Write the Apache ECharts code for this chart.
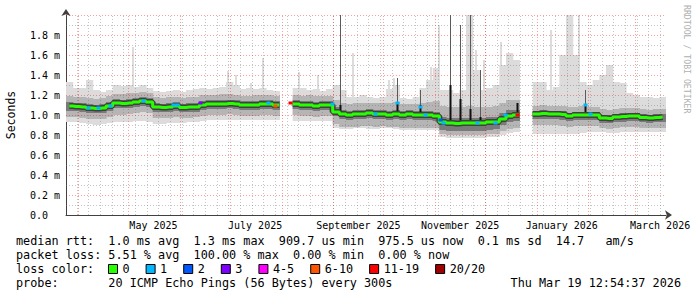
<!DOCTYPE html>
<html><head><meta charset="utf-8">
<script src="https://cdn.jsdelivr.net/npm/echarts@6/dist/echarts.min.js"></script>
<style>html,body{margin:0;padding:0;background:#fff}#c{width:697px;height:297px}</style>
</head><body><div id="c"></div>
<script>
// ---- time range / buckets ----
const startTime = '2025-03-24 12:54:37';
const endTime = '2026-03-19 12:54:37';
const bucketDays = 4;

// ---- median RTT per 4-day bucket (ms) ----
const median = [1.09,1.085,1.08,1.07,1.065,1.07,1.09,1.12,1.115,1.12,
 1.13,1.14,1.13,1.08,1.075,1.08,1.09,1.075,1.08,1.08,
 1.10,1.11,1.11,1.11,1.115,1.11,1.10,1.10,1.10,1.11,
 1.11,1.10,null,null,1.11,1.10,1.10,1.09,1.10,1.10,
 1.03,1.01,1.00,1.01,1.01,1.02,1.01,1.01,1.00,1.01,
 1.00,1.01,1.00,1.00,1.00,0.99,0.93,0.92,0.915,0.92,
 0.92,0.92,0.92,0.93,0.93,0.96,0.99,1.00,null,null,
 1.01,1.015,1.01,1.01,1.005,0.99,1.00,1.00,1.00,1.00,
 0.97,0.965,0.98,0.985,0.99,0.99,0.975,0.97,0.975,0.98];
// smoke outer extent (min / max of pings)
const smokeHigh = [1.33,1.27,1.27,1.35,1.25,1.23,1.25,1.30,1.29,1.30,
 1.28,1.30,1.27,1.24,1.23,1.24,1.25,1.23,1.25,1.26,
 1.27,1.26,1.27,1.28,1.33,1.30,1.26,1.27,1.26,1.27,
 1.25,1.24,null,null,1.27,1.27,1.25,1.26,1.24,1.26,
 1.30,1.25,1.18,1.18,1.20,1.18,1.17,1.18,1.26,1.30,
 1.17,1.16,1.18,1.27,1.35,1.47,1.25,1.25,1.22,1.25,
 2.00,1.45,1.25,1.27,1.30,1.50,1.62,1.55,null,null,
 1.33,1.33,1.25,1.28,1.60,2.00,1.60,1.33,1.30,1.35,
 1.40,1.50,1.33,1.32,1.22,1.20,1.18,1.18,1.17,1.18];
const smokeLow = [0.93,0.93,0.92,0.91,0.90,0.91,0.92,0.93,0.93,0.93,
 0.94,0.94,0.93,0.91,0.91,0.92,0.92,0.92,0.93,0.93,
 0.94,0.95,0.95,0.95,0.95,0.95,0.95,0.95,0.95,0.95,
 0.95,0.95,null,null,0.94,0.94,0.94,0.94,0.94,0.94,
 0.87,0.86,0.86,0.87,0.87,0.86,0.86,0.87,0.87,0.86,
 0.85,0.85,0.85,0.85,0.85,0.85,0.78,0.77,0.77,0.77,
 0.77,0.77,0.77,0.78,0.78,0.80,0.82,0.83,null,null,
 0.81,0.81,0.81,0.81,0.81,0.81,0.81,0.82,0.83,0.83,
 0.83,0.82,0.82,0.83,0.83,0.83,0.83,0.83,0.83,0.83];
// middle smoke layer
const midHigh = [1.19,1.18,1.18,1.17,1.16,1.17,1.19,1.21,1.21,1.22,
 1.22,1.23,1.22,1.18,1.17,1.18,1.18,1.17,1.18,1.18,
 1.20,1.20,1.20,1.21,1.21,1.20,1.19,1.19,1.20,1.20,
 1.20,1.19,null,null,1.20,1.19,1.20,1.19,1.19,1.19,
 1.15,1.12,1.11,1.12,1.12,1.12,1.12,1.12,1.12,1.13,
 1.11,1.11,1.11,1.12,1.13,1.14,1.09,1.08,1.08,1.08,
 1.09,1.08,1.08,1.08,1.09,1.12,1.15,1.15,null,null,
 1.09,1.10,1.09,1.09,1.09,1.08,1.08,1.09,1.08,1.08,
 1.06,1.05,1.06,1.07,1.07,1.07,1.06,1.05,1.06,1.06];
const midLow = [0.98,0.98,0.97,0.96,0.96,0.96,0.98,1.00,1.00,1.01,
 1.02,1.03,1.02,0.97,0.97,0.97,0.98,0.97,0.97,0.98,
 0.99,1.00,1.00,1.00,1.01,1.00,0.99,0.99,0.99,1.00,
 1.00,0.99,null,null,1.00,0.99,0.99,0.98,0.99,0.99,
 0.91,0.88,0.88,0.88,0.89,0.89,0.88,0.89,0.88,0.88,
 0.87,0.87,0.87,0.87,0.87,0.87,0.81,0.80,0.80,0.80,
 0.80,0.80,0.80,0.81,0.81,0.84,0.86,0.87,null,null,
 0.90,0.90,0.90,0.90,0.89,0.88,0.89,0.89,0.89,0.89,
 0.87,0.86,0.87,0.88,0.88,0.88,0.87,0.87,0.87,0.87];
// dark core layer
const coreHigh = [1.13,1.12,1.12,1.11,1.10,1.11,1.13,1.16,1.15,1.16,
 1.17,1.18,1.17,1.12,1.11,1.12,1.13,1.11,1.12,1.12,
 1.14,1.15,1.15,1.15,1.15,1.15,1.14,1.14,1.14,1.15,
 1.15,1.14,null,null,1.15,1.14,1.14,1.13,1.14,1.14,
 1.08,1.05,1.04,1.05,1.05,1.06,1.05,1.05,1.04,1.05,
 1.04,1.05,1.04,1.04,1.04,1.03,0.98,0.97,0.97,0.97,
 0.97,0.97,0.97,0.98,0.98,1.02,1.05,1.05,null,null,
 1.04,1.05,1.04,1.04,1.04,1.02,1.03,1.03,1.03,1.03,
 1.00,1.00,1.01,1.02,1.02,1.02,1.01,1.00,1.01,1.01];
const coreLow = [1.04,1.04,1.03,1.02,1.02,1.02,1.04,1.07,1.07,1.07,
 1.08,1.09,1.08,1.03,1.03,1.03,1.04,1.03,1.03,1.03,
 1.05,1.06,1.06,1.06,1.07,1.06,1.05,1.05,1.05,1.06,
 1.06,1.05,null,null,1.06,1.05,1.05,1.04,1.05,1.05,
 0.99,0.96,0.95,0.96,0.96,0.97,0.96,0.96,0.95,0.96,
 0.95,0.96,0.95,0.95,0.95,0.94,0.85,0.84,0.84,0.84,
 0.84,0.84,0.84,0.85,0.86,0.90,0.93,0.94,null,null,
 0.96,0.96,0.96,0.96,0.95,0.94,0.95,0.95,0.95,0.95,
 0.92,0.92,0.93,0.93,0.94,0.94,0.93,0.92,0.93,0.93];

// narrow light smoke spikes: [date, top ms]
const lightSpikes = [['2025-05-03',1.68],['2025-06-29',1.44],['2025-07-04',1.40],['2025-07-13',1.32],
 ['2025-07-20',1.57],['2025-08-11',1.43],['2025-08-22',1.40],['2025-09-12',1.62],['2025-10-04',1.35],
 ['2025-10-07',1.37],['2025-10-29',1.48],['2025-11-03',1.90],['2025-11-25',1.65],['2025-11-30',1.55],
 ['2025-12-10',1.73],['2026-01-09',1.85],['2026-01-26',2.00]];
// dark spikes: [date, dark from, dark to, thin line top]
const darkSpikes = [['2025-09-05',1.00,1.10,2.00],['2025-10-09',1.02,1.12,1.37],['2025-10-23',1.02,1.10,1.25],
 ['2025-11-10',0.92,1.30,2.00],['2025-11-16',0.92,1.16,1.90],['2025-11-22',0.92,1.06,2.00],
 ['2025-11-28',0.90,0.98,1.45],['2025-12-20',0.97,1.12,1.12],['2026-01-30',1.00,1.10,1.25]];
// median points with packet loss: [date, ms, loss class index]
const lossMarks = [['2025-04-07',1.07,1],['2025-04-13',1.07,1],['2025-04-20',1.09,1],['2025-05-10',1.14,1],
 ['2025-05-28',1.10,1],['2025-05-30',1.10,1],['2025-06-13',1.12,3],['2025-07-24',1.12,1],['2025-07-28',1.09,5],
 ['2025-08-06',1.12,6],['2025-08-31',1.11,1],['2025-09-26',1.01,1],['2025-10-09',1.12,1],['2025-10-23',1.08,1],
 ['2025-10-26',1.00,1],['2025-11-04',0.95,2],['2025-11-06',0.92,1],['2025-11-26',0.92,1],['2025-12-07',0.92,1],
 ['2025-12-13',1.00,1],['2025-12-20',1.00,6],['2026-01-30',1.10,1],['2026-02-02',1.01,1]];

const lossLabels = ['0','1','2','3','4-5','6-10','11-19','20/20'];
const lossColors = ['#26ff00','#00b8ff','#0059ff','#7e00ff','#ff00ff','#ff5500','#ff0000','#a10000'];

const xLabels = ['May 2025','July 2025','September 2025','November 2025','January 2026','March 2026'];
const xLabelDates = ['2025-05-16','2025-07-16','2025-09-16','2025-11-16','2026-01-16','2026-03-16'];

const legendRows = [
 'median rtt:  1.0 ms avg  1.3 ms max  909.7 us min  975.5 us now  0.1 ms sd  14.7   am/s',
 'packet loss: 5.51 % avg  100.00 % max  0.00 % min  0.00 % now',
 'loss color:',
 'probe:       20 ICMP Echo Pings (56 Bytes) every 300s'
];
const stampText = 'Thu Mar 19 12:54:37 2026';
const watermark = 'RRDTOOL / TOBI OETIKER';

// ---- helpers ----
const DAY = 86400000;
function ts(s){ return new Date(s.length <= 10 ? s + 'T00:00:00' : s.replace(' ', 'T')).getTime(); }
function pre(s){ return s.replace(/ {2,}/g, m => '\u00a0'.repeat(m.length)); }
const tStart = ts(startTime), tEnd = ts(endTime);
const MONO = '"DejaVu Sans Mono", monospace';

function band(lowArr, highArr){
  const out = [];
  for (let i = 0; i < lowArr.length; i++){
    if (lowArr[i] == null || highArr[i] == null) continue;
    out.push([tStart + i*bucketDays*DAY, tStart + (i+1)*bucketDays*DAY, lowArr[i], highArr[i]]);
  }
  return out;
}
function bandSeries(lowArr, highArr, color, z){
  return { type:'custom', z:z, silent:true, clip:true, data: band(lowArr, highArr),
    encode:{x:[0,1], y:[2,3]},
    renderItem(params, api){
      const a = api.coord([api.value(0), api.value(3)]);
      const b = api.coord([api.value(1), api.value(2)]);
      return {type:'rect', shape:{x:a[0], y:a[1], width:b[0]-a[0]+0.6, height:b[1]-a[1]}, style:{fill:color}};
    }};
}
const medianData = median.map((v,i) => [tStart + (i+0.5)*bucketDays*DAY, v == null ? '-' : v]);

// grid positions
const monthStarts = [], mondays = [];
{ const d = new Date(tStart); let m = new Date(d.getFullYear(), d.getMonth()+1, 1);
  while (m.getTime() < tEnd){ monthStarts.push(m.getTime()); m = new Date(m.getFullYear(), m.getMonth()+1, 1); }
  let w = new Date(d.getFullYear(), d.getMonth(), d.getDate()); while (w.getDay() !== 1) w = new Date(w.getTime()+DAY);
  if (w.getTime() < tStart) w = new Date(w.getFullYear(), w.getMonth(), w.getDate()+7);
  while (w.getTime() < tEnd){ mondays.push(w.getTime()); w = new Date(w.getFullYear(), w.getMonth(), w.getDate()+7); } }
const yGrid = []; for (let k = 1; k <= 20; k++) yGrid.push([k/10, k % 2 === 0 ? 1 : 0]);

const RED = 'rgba(255,0,0,0.38)', GREY = 'rgba(110,110,110,0.4)';

const series = [
  bandSeries(smokeLow, smokeHigh, '#dcdcdc', 2),
  { type:'custom', z:2, silent:true, clip:true, data: lightSpikes.map(s => [ts(s[0]), 1.0, s[1]]), encode:{x:0, y:[1,2]},
    renderItem(p, api){ const a = api.coord([api.value(0), api.value(2)]); const b = api.coord([api.value(0), api.value(1)]);
      return {type:'rect', shape:{x:Math.round(a[0]), y:a[1], width:2, height:b[1]-a[1]}, style:{fill:'#dcdcdc'}}; } },
  bandSeries(midLow, midHigh, '#b5b5b5', 2),
  bandSeries(coreLow, coreHigh, '#7a7a7a', 2),
  { type:'custom', z:3, silent:true, clip:true,
    data: mondays.map(t => [t, 0, 0]).concat(monthStarts.map(t => [t, 0, 1])), encode:{x:0, y:1},
    renderItem(p, api){ const a = api.coord([api.value(0), 0]); const b = api.coord([api.value(0), 2.0]); const x = Math.round(a[0]) + 0.5;
      return {type:'line', shape:{x1:x, y1:a[1], x2:x, y2:b[1]}, style:{stroke: api.value(2) ? RED : GREY, lineWidth:1, lineDash:[1,2]}}; } },
  { type:'custom', z:3, silent:true, clip:true,
    data: yGrid.map(g => [tStart, g[0], g[1]]), encode:{x:0, y:1},
    renderItem(p, api){ const a = api.coord([tStart, api.value(1)]); const b = api.coord([tEnd, api.value(1)]); const y = Math.round(a[1]) + 0.5;
      return {type:'line', shape:{x1:a[0], y1:y, x2:b[0], y2:y}, style:{stroke: api.value(2) ? RED : GREY, lineWidth:1, lineDash:[1,2]}}; } },
  { type:'custom', z:4, silent:true, clip:true, data: darkSpikes.map(s => [ts(s[0]), s[1], s[2], s[3]]), encode:{x:0, y:[1,3]},
    renderItem(p, api){ const t = api.value(0);
      const lo = api.coord([t, api.value(1)]), hi = api.coord([t, api.value(2)]), top = api.coord([t, api.value(3)]);
      const x = Math.round(lo[0]);
      return {type:'group', children:[
        {type:'rect', shape:{x:x, y:top[1], width:1, height:hi[1]-top[1]}, style:{fill:'#5a5a5a'}},
        {type:'rect', shape:{x:x-0.5, y:hi[1], width:2, height:lo[1]-hi[1]}, style:{fill:'#111'}} ]}; } },
  { type:'line', z:4, silent:true, data: medianData, step:'middle', showSymbol:false, connectNulls:false,
    lineStyle:{color:'#404040', width:6}, itemStyle:{color:'#404040'} },
  { type:'line', z:5, silent:true, data: medianData, step:'middle', showSymbol:false, connectNulls:false,
    lineStyle:{color:lossColors[0], width:3}, itemStyle:{color:lossColors[0]} }
];
lossLabels.forEach((name, k) => {
  series.push({ type:'custom', name:name, z:6, silent:true, itemStyle:{color:lossColors[k]},
    data: lossMarks.filter(m => m[2] === k).map(m => [ts(m[0]), m[1]]), encode:{x:0, y:1},
    renderItem(p, api){ const c = api.coord([api.value(0), api.value(1)]);
      return {type:'rect', shape:{x:Math.round(c[0])-1.5, y:c[1]-1.5, width:4, height:3}, style:{fill:lossColors[k]}}; } });
});

const chart = echarts.init(document.getElementById('c'), null, {renderer:'svg', width:697, height:297});
chart.setOption({
  animation:false,
  backgroundColor:'#fff',
  grid:{left:66, right:31, top:15, bottom:82, containLabel:false, outerBoundsMode:'none'},
  xAxis:{ type:'value', min:tStart, max:tEnd, scale:true,
    axisLine:{show:true, lineStyle:{color:'#404040', width:1}, symbol:['none','arrow'], symbolSize:[7,7], symbolOffset:[0,6]},
    axisTick:{show:false}, splitLine:{show:false},
    axisLabel:{ customValues: xLabelDates.map(ts), fontFamily:MONO, fontSize:10, color:'#000', margin:5, hideOverlap:false,
      showMinLabel:true, showMaxLabel:true,
      formatter: v => { let best = 0, bd = Infinity; xLabelDates.forEach((d,i) => { const dd = Math.abs(ts(d) - v); if (dd < bd){ bd = dd; best = i; } }); return xLabels[best]; } } },
  yAxis:{ type:'value', min:0, max:2.0, interval:0.2,
    axisLine:{show:true, lineStyle:{color:'#404040', width:1}, symbol:['none','arrow'], symbolSize:[7,7], symbolOffset:[0,6]},
    axisTick:{show:false}, splitLine:{show:false},
    axisLabel:{ fontFamily:MONO, fontSize:10, color:'#000', margin:6, showMaxLabel:false,
      formatter: v => v === 0 ? '0.0\u00a0\u00a0' : v.toFixed(1) + ' m' },
    name:'Seconds', nameLocation:'middle', nameRotate:90, nameGap:49,
    nameTextStyle:{fontFamily:MONO, fontSize:11.5, color:'#000'} },
  legend:{ left:108, top:263, itemWidth:9, itemHeight:9, itemGap:16, icon:'rect', selectedMode:false, padding:0,
    itemStyle:{borderColor:'#000', borderWidth:1},
    textStyle:{fontFamily:MONO, fontSize:11.8, color:'#000', lineHeight:12}, data: lossLabels },
  graphic:[
    {type:'text', x:16, y:241, style:{text:pre(legendRows[0]), font:'11.8px ' + MONO, fill:'#000', verticalAlign:'middle'}},
    {type:'text', x:16, y:255, style:{text:pre(legendRows[1]), font:'11.8px ' + MONO, fill:'#000', verticalAlign:'middle'}},
    {type:'text', x:16, y:269, style:{text:pre(legendRows[2]), font:'11.8px ' + MONO, fill:'#000', verticalAlign:'middle'}},
    {type:'text', x:16, y:283, style:{text:pre(legendRows[3]), font:'11.8px ' + MONO, fill:'#000', verticalAlign:'middle'}},
    {type:'text', x:681, y:283, style:{text:stampText, font:'11.8px ' + MONO, fill:'#000', align:'right', verticalAlign:'middle'}},
    {type:'text', x:687, y:5, rotation:-Math.PI/2, style:{text:watermark, font:'8.2px ' + MONO, fill:'#b0b0b0', align:'left', verticalAlign:'middle'}}
  ],
  series: series
});
</script>
</body></html>
